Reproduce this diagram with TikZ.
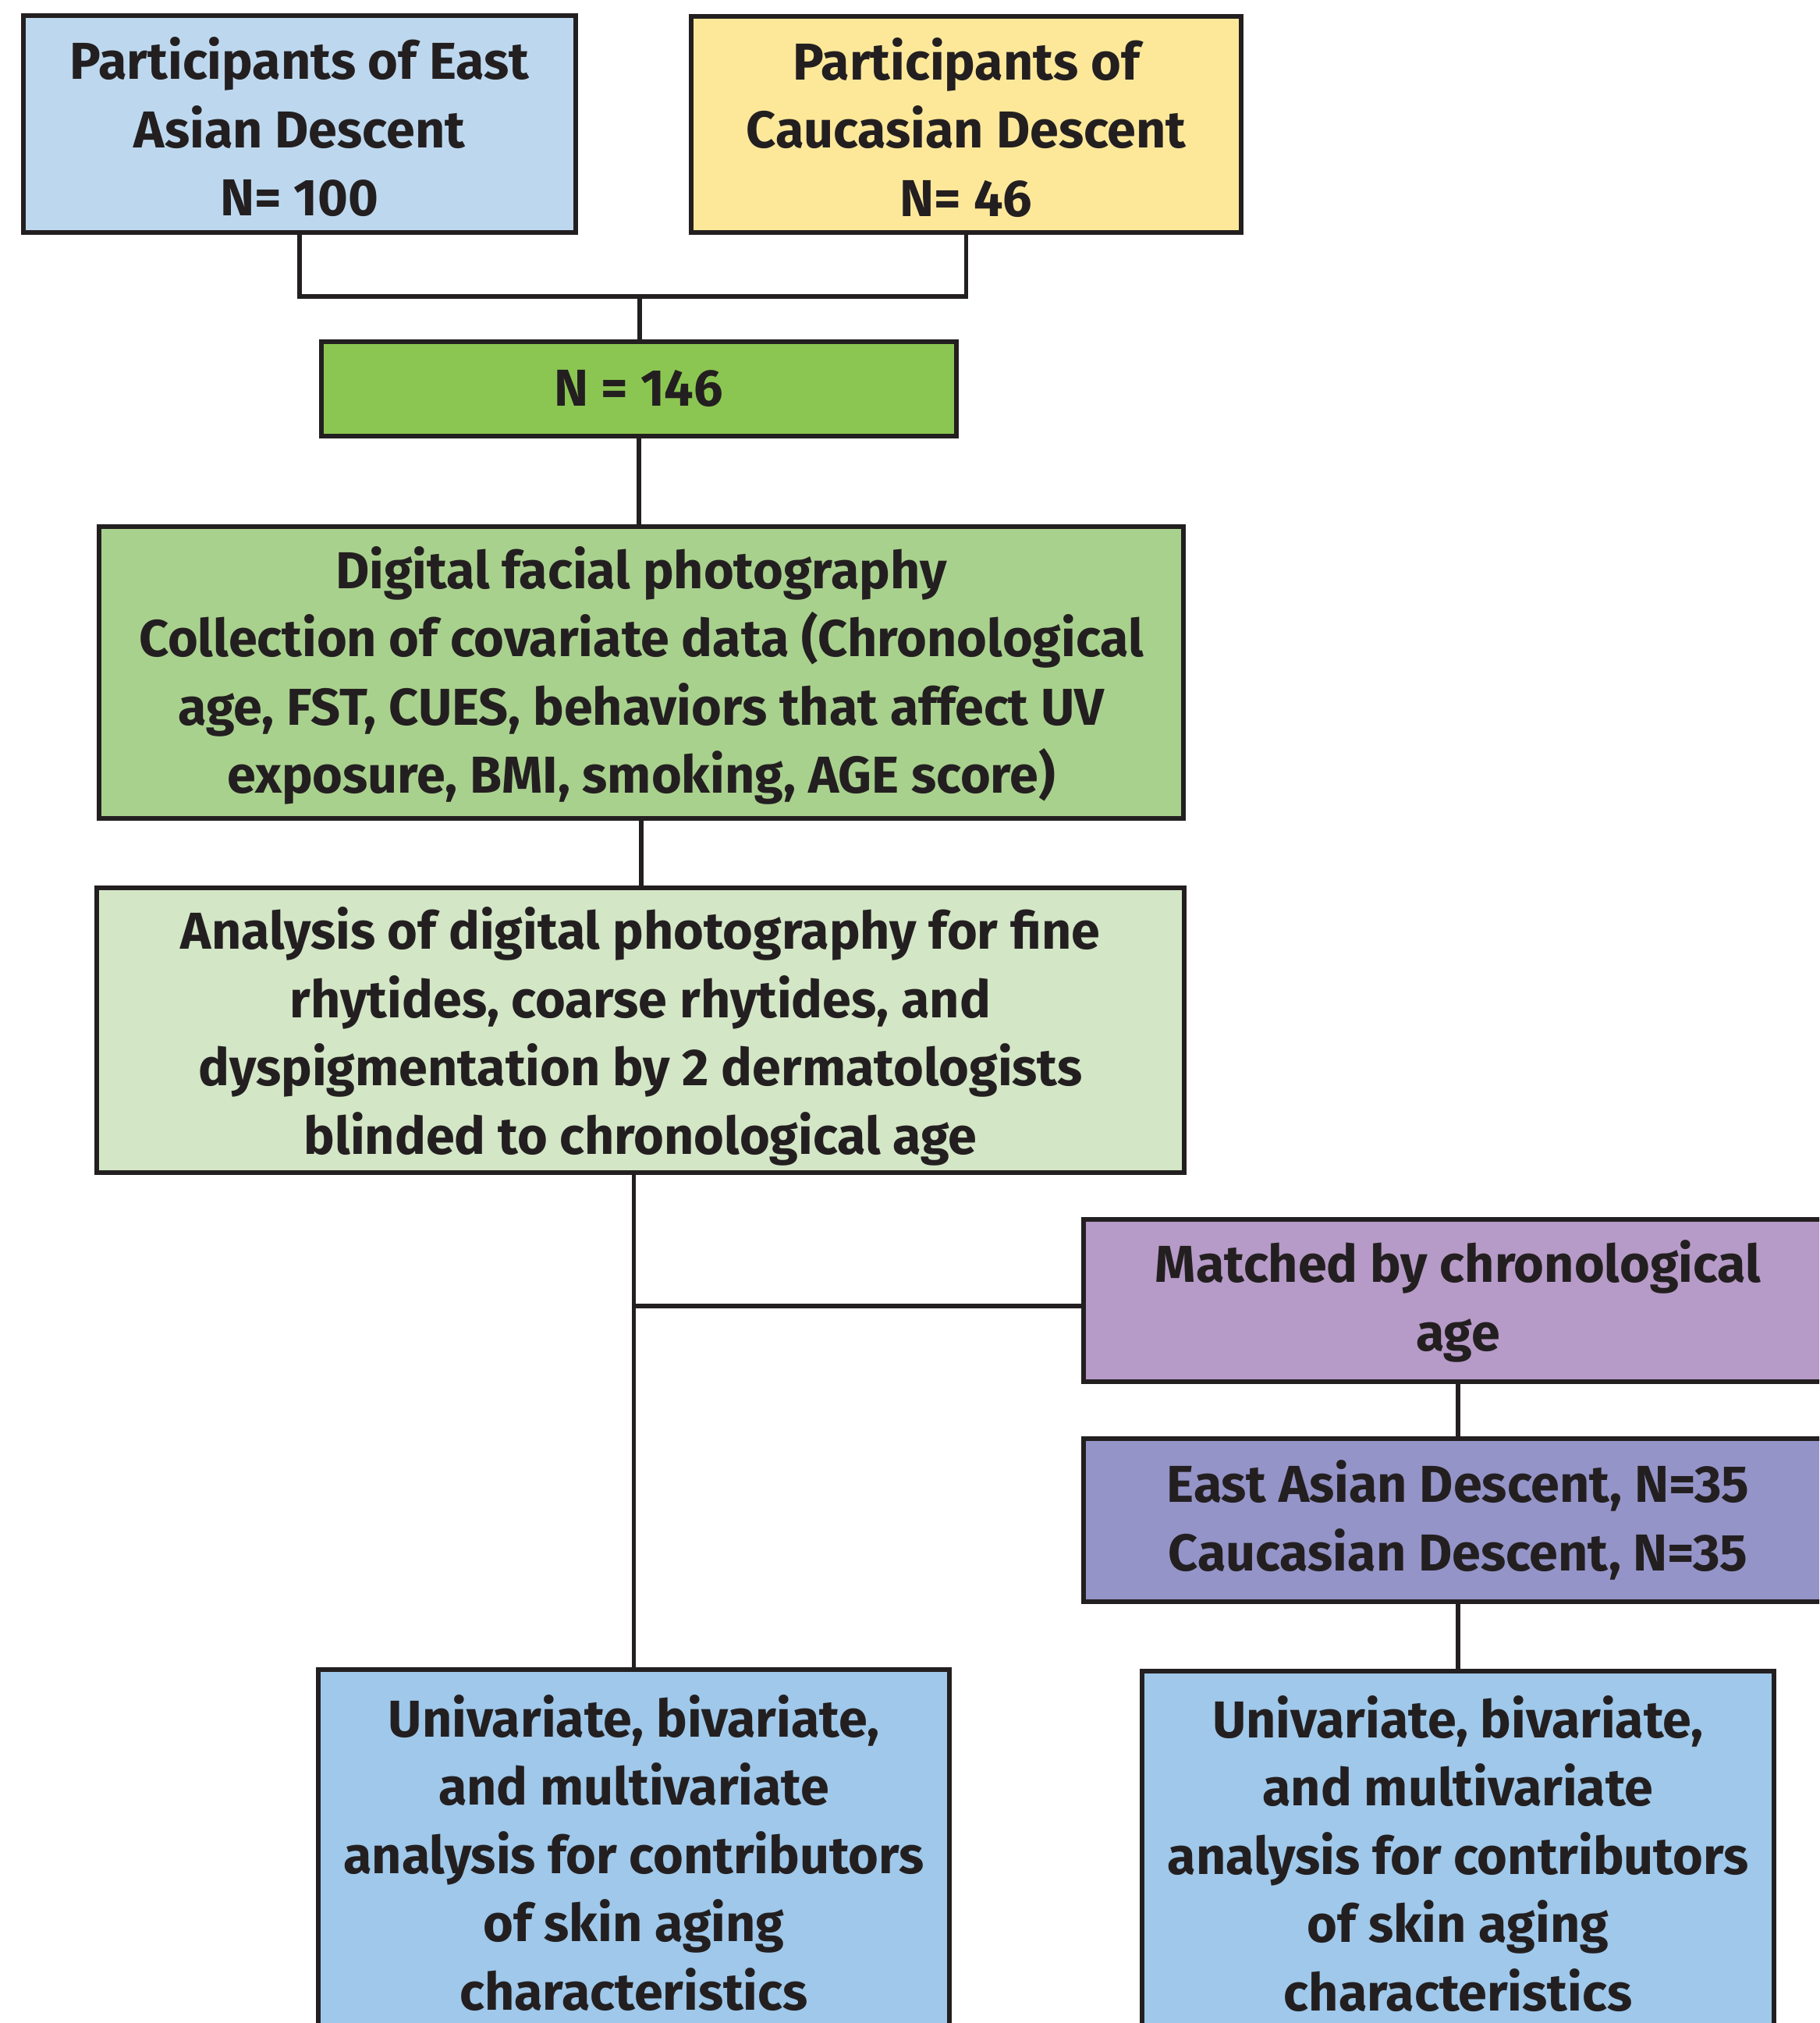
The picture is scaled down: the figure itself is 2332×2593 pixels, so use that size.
\documentclass[tikz,border=0pt]{standalone}
\usepackage{fontspec}
\setmainfont{Fira Sans}
\definecolor{lineclr}{HTML}{231F20}
\definecolor{cBlueA}{HTML}{BDD8EE}
\definecolor{cYellow}{HTML}{FDE89A}
\definecolor{cGreenA}{HTML}{8BC652}
\definecolor{cGreenB}{HTML}{A9D18E}
\definecolor{cGreenC}{HTML}{D3E6C6}
\definecolor{cPurple}{HTML}{B69AC7}
\definecolor{cViolet}{HTML}{9494C8}
\definecolor{cBlueB}{HTML}{9FC8EA}
\tikzset{
  fbox/.style={draw=lineclr, line width=5.5pt, align=center, inner sep=0pt,
    font=\fontsize{66.5}{87.5}\selectfont\bfseries, text=lineclr},
  conn/.style={draw=lineclr, line width=5.5pt}
}
\begin{document}
\begin{tikzpicture}[x=1pt,y=-1pt]
\clip (0,0) rectangle (2332,2593);
\useasboundingbox (0,0) rectangle (2332,2593);
\fill[white] (0,0) rectangle (2332,2593);
\node[fbox, fill=cBlueA, minimum width=708pt, minimum height=278pt] (b1) at (384,159)
  {\rule{0pt}{62pt}Participants of East\\Asian Descent\\N= 100};
\node[fbox, fill=cYellow, minimum width=705pt, minimum height=277pt] (b2) at (1238.5,159.5)
  {\rule{0pt}{62pt}Participants of\\Caucasian Descent\\N= 46};
\node[fbox, fill=cGreenA, minimum width=814pt, minimum height=121pt] (n146) at (819,498.5)
  {N = 146};
\node[fbox, fill=cGreenB, minimum width=1390pt, minimum height=374pt] (dig) at (822,862)
  {\rule{0pt}{62pt}Digital facial photography\\Collection of covariate data (Chronological\\age, FST, CUES, behaviors that affect UV\\exposure, BMI, smoking, AGE score)};
\node[fbox, fill=cGreenC, minimum width=1394pt, minimum height=365pt] (ana) at (821,1320.5)
  {\rule{0pt}{70pt}Analysis of digital photography for fine\\rhytides, coarse rhytides, and\\dyspigmentation by 2 dermatologists\\blinded to chronological age};
\node[fbox, fill=cPurple, minimum width=960pt, minimum height=208pt] (match) at (1869,1667)
  {\rule{0pt}{56pt}Matched by chronological\\age};
\node[fbox, fill=cViolet, minimum width=960pt, minimum height=209pt] (ea) at (1869,1948.5)
  {East Asian Descent, N=35\\Caucasian Descent, N=35};
\node[fbox, fill=cBlueB, minimum width=809pt, minimum height=470pt] (bl) at (812.5,2375)
  {Univariate, bivariate,\\and multivariate\\analysis for contributors\\of skin aging\\characteristics};
\node[fbox, fill=cBlueB, minimum width=810pt, minimum height=468pt] (br) at (1869,2376)
  {Univariate, bivariate,\\and multivariate\\analysis for contributors\\of skin aging\\characteristics};
\coordinate (j) at (820,380);
\draw[conn] (b1.south) |- (j) -| (b2.south);
\draw[conn] (j) -- (j |- n146.north);
\draw[conn] (n146.south) -- (n146.south |- dig.north);
\draw[conn] (dig.south) -- (dig.south |- ana.north);
\draw[conn] (bl.north |- ana.south) -- (bl.north);
\coordinate (k) at (810,1674);
\draw[conn] (k) -- (k -| match.west);
\draw[conn] (match.south) -- (match.south |- ea.north);
\draw[conn] (ea.south) -- (ea.south |- br.north);
\end{tikzpicture}
\end{document}
